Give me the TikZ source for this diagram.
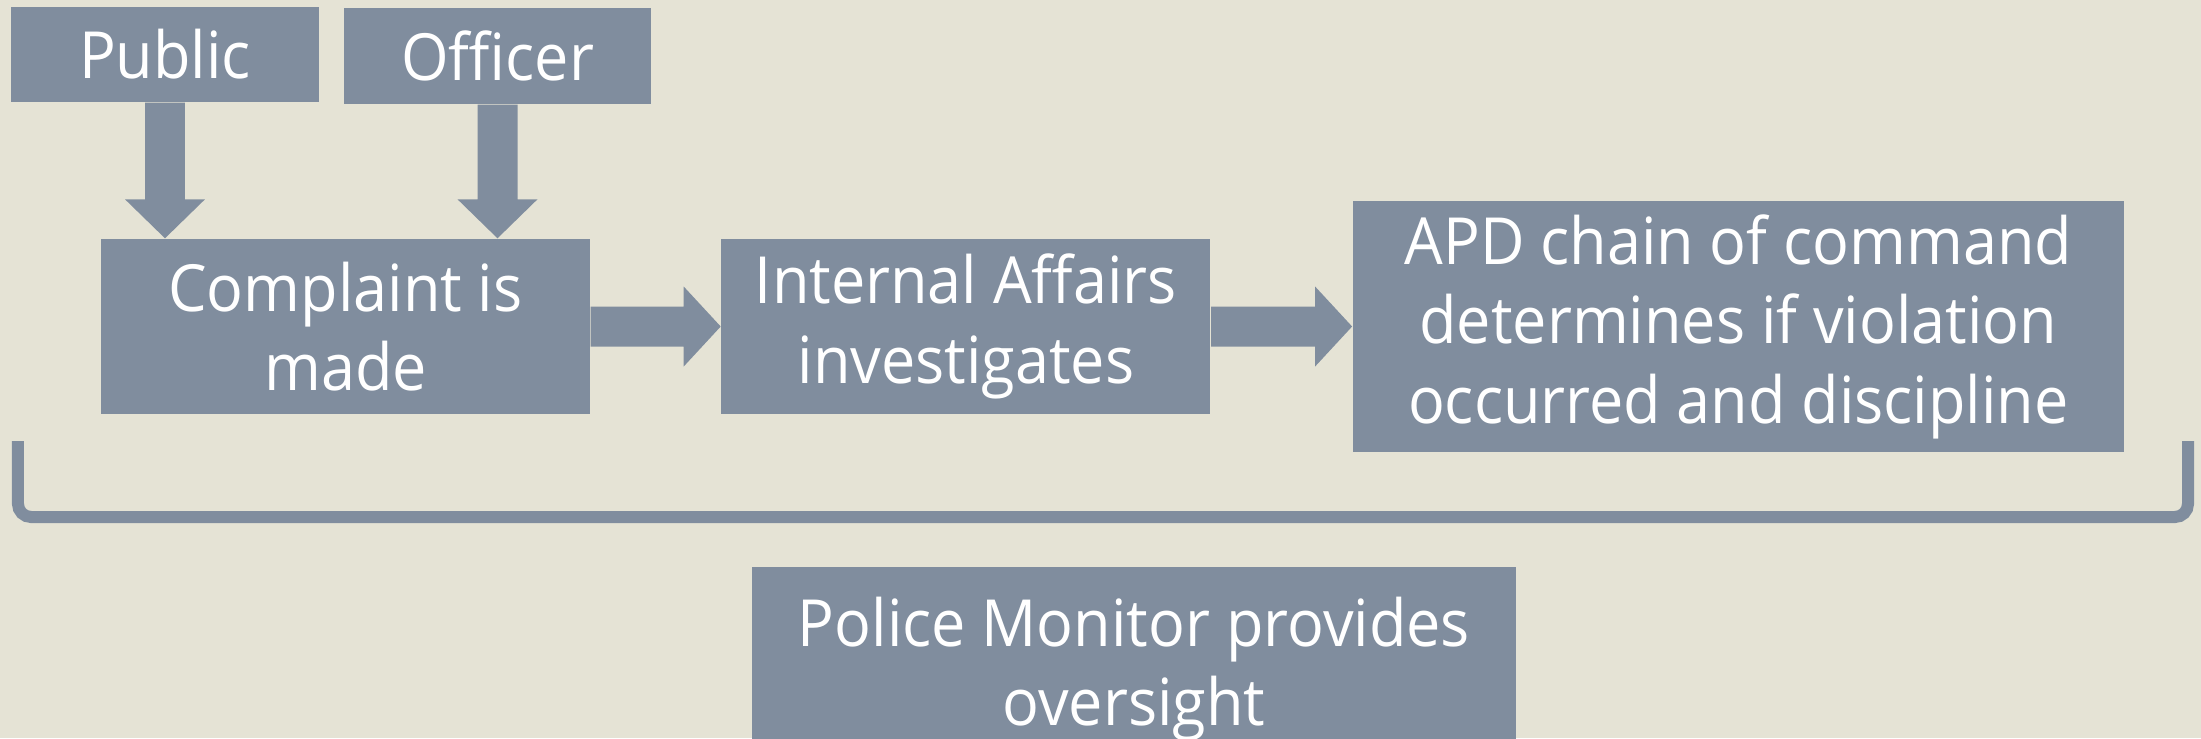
\documentclass[tikz,border=0pt]{standalone}
\usepackage{fontspec}
\setmainfont[FakeStretch=0.94]{Open Sans}
\usetikzlibrary{calc,positioning}
\definecolor{pagebg}{HTML}{E5E3D5}
\definecolor{slate}{HTML}{808D9E}
\tikzset{
  stage box/.style={fill=slate,text=white,align=center,inner sep=0pt,
    font=\fontsize{18.5}{22.6}\selectfont},
  bracket line/.style={slate,line width=1.2mm,rounded corners=1.3mm},
}

\begin{document}
\begin{tikzpicture}
  \fill[pagebg] (0,0) rectangle (22.01,-7.38);
  \useasboundingbox (0,0) rectangle (22.01,-7.38);
  % who files
  \node[stage box,minimum width=3.08cm,minimum height=0.95cm] (public) at (1.65,-0.545) {Public};
  \node[stage box,minimum width=3.07cm,minimum height=0.96cm] (officer) at (4.975,-0.56) {Officer};
  % main chain
  \node[stage box,minimum width=4.89cm,minimum height=1.75cm] (complaint) at (3.455,-3.265) {Complaint is\\made};
  \node[stage box,minimum width=4.89cm,minimum height=1.75cm,right=1.30cm of complaint] (affairs) {Internal Affairs\\investigates};
  \node[stage box,minimum width=7.71cm,minimum height=2.51cm,right=1.41cm of affairs] (command) {APD chain of command\\determines if violation\\occurred and discipline};
  \node[stage box,minimum width=7.64cm,minimum height=2.04cm] (monitor) at (11.34,-6.69) {Police Monitor provides\\oversight};
  % block arrows down
  \foreach \a/\b in {public/complaint,officer/complaint}{
    \coordinate (tip) at (\a.south |- \b.north);
    \fill[slate] (tip) -- ++(-.4,.39) -- ++(.2,0) -- ($(\a.south)+(-.2,0)$)
      -- ++(.4,0) -- ($(tip)+(.2,.39)$) -- ++(.2,0) -- cycle;
  }
  % block arrows right
  \foreach \a/\b in {complaint/affairs,affairs/command}{
    \coordinate (tip) at (\b.west);
    \fill[slate] (tip) -- ++(-.37,.4) -- ++(0,-.2) -- ($(\a.east)+(0,.2)$)
      -- ++(0,-.4) -- ($(tip)+(-.37,-.2)$) -- ++(0,-.2) -- cycle;
  }
  % oversight bracket
  \draw[bracket line] (0.18,-4.41) -- (0.18,-5.17) -- (21.88,-5.17) -- (21.88,-4.41);
\end{tikzpicture}
\end{document}
